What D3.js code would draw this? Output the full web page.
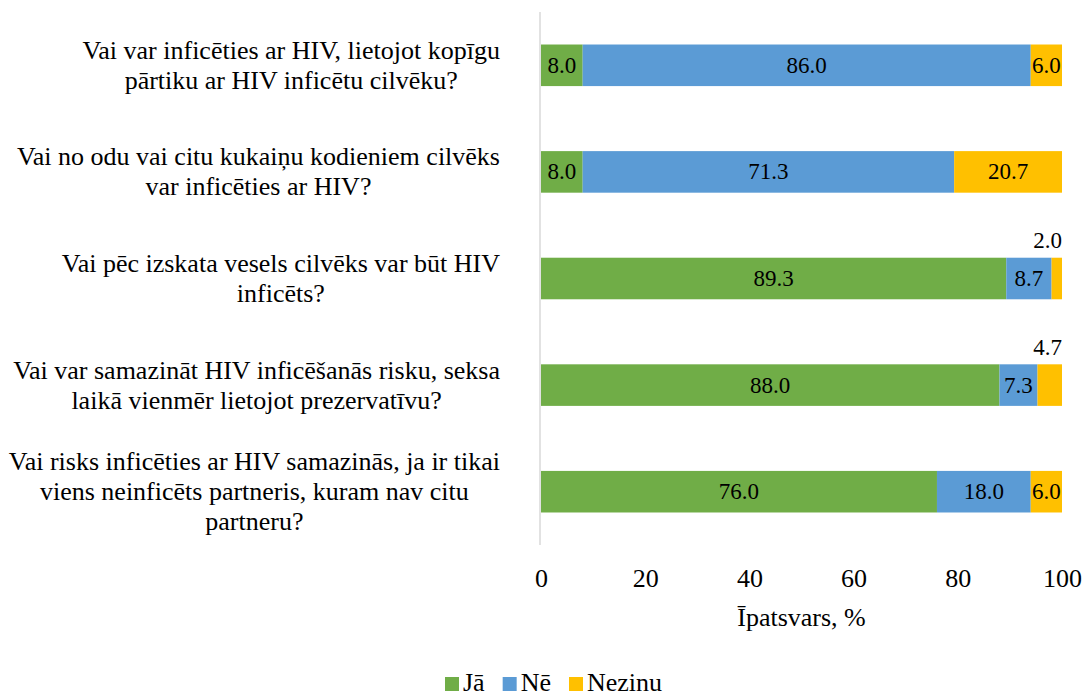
<!DOCTYPE html>
<html>
<head>
<meta charset="utf-8">
<script src="https://cdn.jsdelivr.net/npm/d3@7"></script>
<style>
  body { margin: 0; background: #fff; }
  text { font-family: "Liberation Serif", "Times New Roman", serif; fill: #000; }
</style>
</head>
<body>
<div id="chart"></div>
<script>
const categories = [
    ["Vai var inficēties ar HIV, lietojot kopīgu", "pārtiku ar HIV inficētu cilvēku?"],
    ["Vai no odu vai citu kukaiņu kodieniem cilvēks", "var inficēties ar HIV?"],
    ["Vai pēc izskata vesels cilvēks var būt HIV", "inficēts?"],
    ["Vai var samazināt HIV inficēšanās risku, seksa", "laikā vienmēr lietojot prezervatīvu?"],
    ["Vai risks inficēties ar HIV samazinās, ja ir tikai", "viens neinficēts partneris, kuram nav citu", "partneru?"]
];
const seriesNames = ["Jā", "Nē", "Nezinu"];
const ja = [8.0, 8.0, 89.3, 88.0, 76.0];
const ne = [86.0, 71.3, 8.7, 7.3, 18.0];
const nezinu = [6.0, 20.7, 2.0, 4.7, 6.0];
const xTicks = [0, 20, 40, 60, 80, 100];
const colors = ["#70AD47", "#5B9BD5", "#FFC000"];

const width = 1084, height = 697;
const margin = { left: 541, right: 22, top: 12, bottom: 152 };

const svg = d3.select("#chart").append("svg")
    .attr("width", width)
    .attr("height", height);

const x = d3.scaleLinear().domain([0, 100]).range([margin.left, width - margin.right]);
const y = d3.scaleBand().domain(d3.range(categories.length))
    .range([margin.top, height - margin.bottom])
    .paddingInner(0.61).paddingOuter(0.305);

// vertical axis line
svg.append("line")
    .attr("x1", margin.left - 1).attr("x2", margin.left - 1)
    .attr("y1", margin.top).attr("y2", height - margin.bottom)
    .attr("stroke", "#d9d9d9").attr("stroke-width", 1.5);

const rows = categories.map((c, i) => ({ i, values: [ja[i], ne[i], nezinu[i]] }));

rows.forEach(row => {
    let acc = 0;
    row.values.forEach((v, s) => {
        const x0 = acc, x1 = acc + v;
        acc = x1;
        svg.append("rect")
            .attr("x", x(x0))
            .attr("y", y(row.i))
            .attr("width", x(x1) - x(x0))
            .attr("height", y.bandwidth())
            .attr("fill", colors[s]);

        const small = x(x1) - x(x0) < 30;
        svg.append("text")
            .attr("x", small ? x(x1) : (x(x0) + x(x1)) / 2)
            .attr("y", small ? y(row.i) - 17 : y(row.i) + y.bandwidth() / 2)
            .attr("text-anchor", small ? "end" : "middle")
            .attr("dominant-baseline", "central")
            .attr("font-size", 23)
            .text(v.toFixed(1));
    });
});

// category labels: block right-aligned, lines centred in block
const labelRight = 500;
const lineH = 30;
categories.forEach((lines, i) => {
    const g = svg.append("g");
    const cy = y(i) + y.bandwidth() / 2;
    const texts = lines.map((ln, k) => g.append("text")
        .attr("font-size", 26)
        .attr("text-anchor", "middle")
        .attr("dominant-baseline", "central")
        .attr("y", cy + (k - (lines.length - 1) / 2) * lineH)
        .text(ln));
    const maxW = d3.max(texts, t => t.node().getComputedTextLength());
    texts.forEach(t => t.attr("x", labelRight - maxW / 2));
});

// x axis
const xAxis = d3.axisBottom(x).tickValues(xTicks).tickSize(0).tickPadding(0);
const axisG = svg.append("g")
    .attr("transform", `translate(0, ${height - margin.bottom + 33})`)
    .call(xAxis);
axisG.select(".domain").remove();
axisG.selectAll("text")
    .attr("font-size", 26)
    .attr("fill", "#000")
    .attr("dy", "0")
    .attr("dominant-baseline", "central")
    .style("font-family", '"Liberation Serif", "Times New Roman", serif');

svg.append("text")
    .attr("x", (margin.left + width - margin.right) / 2)
    .attr("y", 617)
    .attr("text-anchor", "middle")
    .attr("dominant-baseline", "central")
    .attr("font-size", 26)
    .text("Īpatsvars, %");

// legend
const legend = svg.append("g");
let lx = 445;
seriesNames.forEach((name, s) => {
    legend.append("rect")
        .attr("x", lx).attr("y", 677)
        .attr("width", 14).attr("height", 14)
        .attr("fill", colors[s]);
    const t = legend.append("text")
        .attr("x", lx + 18).attr("y", 682)
        .attr("dominant-baseline", "central")
        .attr("font-size", 26)
        .text(name);
    lx += 18 + t.node().getComputedTextLength() + 18;
});
</script>
</body>
</html>
